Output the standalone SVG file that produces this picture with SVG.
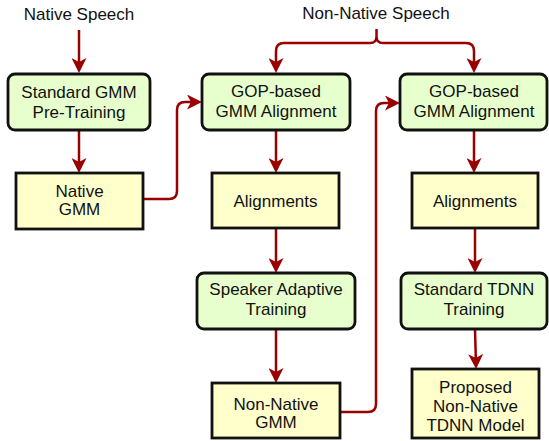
<svg xmlns="http://www.w3.org/2000/svg" width="549" height="441" viewBox="0 0 549 441">
<defs>
<style>
text{font-family:"Liberation Sans",Arial,sans-serif;font-size:17px;fill:#111;text-anchor:middle}
.g{fill:#e6ffcc;stroke:#111;stroke-width:2.8}
.y{fill:#ffffcc;stroke:#111;stroke-width:2.8}
.c{fill:none;stroke:#990000;stroke-width:2.5}
.a{marker-end:url(#ah)}
</style>
<marker id="ah" viewBox="0 0 15 15" refX="4" refY="7.5" markerWidth="15" markerHeight="15" orient="auto" markerUnits="userSpaceOnUse">
<path d="M0,0 L15,7.5 L0,15 L4,7.5 Z" fill="#990000"/>
</marker>
</defs>
<text x="79" y="20">Native Speech</text>
<text x="376" y="19">Non-Native Speech</text>
<g id="connectors">
<path class="c a" d="M79,30 V62"/>
<path class="c a" d="M79,130 V162"/>
<path class="c a" d="M143,199 H169 Q177,199 177,191 V110 Q177,102 185,102 H191"/>
<path class="c a" d="M376.5,29 V37 Q376.5,43 370,43 H284 Q276,43 276,51 V62"/>
<path class="c a" d="M376.5,37 Q376.5,43 383,43 H466 Q474,43 474,51 V62"/>
<path class="c a" d="M276,129 V162"/>
<path class="c a" d="M276,228 V262"/>
<path class="c a" d="M276,329 V372"/>
<path class="c a" d="M340,412 H368 Q376,412 376,404 V111 Q376,103 384,103 H389"/>
<path class="c a" d="M474,129 V162"/>
<path class="c a" d="M475,228 V262"/>
<path class="c a" d="M475,329 L475.8,358"/>
</g>
<g id="std"><rect class="g" x="8" y="74" width="142" height="56" rx="7"/><text x="79" y="98">Standard GMM</text><text x="79" y="118">Pre-Training</text></g>
<g id="nativegmm"><rect class="y" x="16" y="173" width="127" height="56"/><text x="79.5" y="197">Native</text><text x="79.5" y="215">GMM</text></g>
<g id="gop1"><rect class="g" x="202" y="74" width="148" height="56" rx="7"/><text x="276" y="97">GOP-based</text><text x="276" y="117">GMM Alignment</text></g>
<g id="gop2"><rect class="g" x="400" y="74" width="147" height="56" rx="7"/><text x="474" y="97">GOP-based</text><text x="474" y="117">GMM Alignment</text></g>
<g id="align1"><rect class="y" x="212" y="173" width="127" height="55"/><text x="275.5" y="207">Alignments</text></g>
<g id="align2"><rect class="y" x="412" y="173" width="126" height="55"/><text x="475" y="207">Alignments</text></g>
<g id="sat"><rect class="g" x="197" y="273" width="158" height="56" rx="7"/><text x="276" y="295">Speaker Adaptive</text><text x="276" y="315">Training</text></g>
<g id="tdnn"><rect class="g" x="401" y="273" width="146" height="56" rx="7"/><text x="474" y="295">Standard TDNN</text><text x="474" y="315">Training</text></g>
<g id="nngmm"><rect class="y" x="212" y="383" width="128" height="55"/><text x="276" y="410">Non-Native</text><text x="276" y="428">GMM</text></g>
<g id="proposed"><rect class="y" x="412" y="369" width="127" height="69"/><text x="475.5" y="393">Proposed</text><text x="475.5" y="412">Non-Native</text><text x="475.5" y="431">TDNN Model</text></g>
</svg>
